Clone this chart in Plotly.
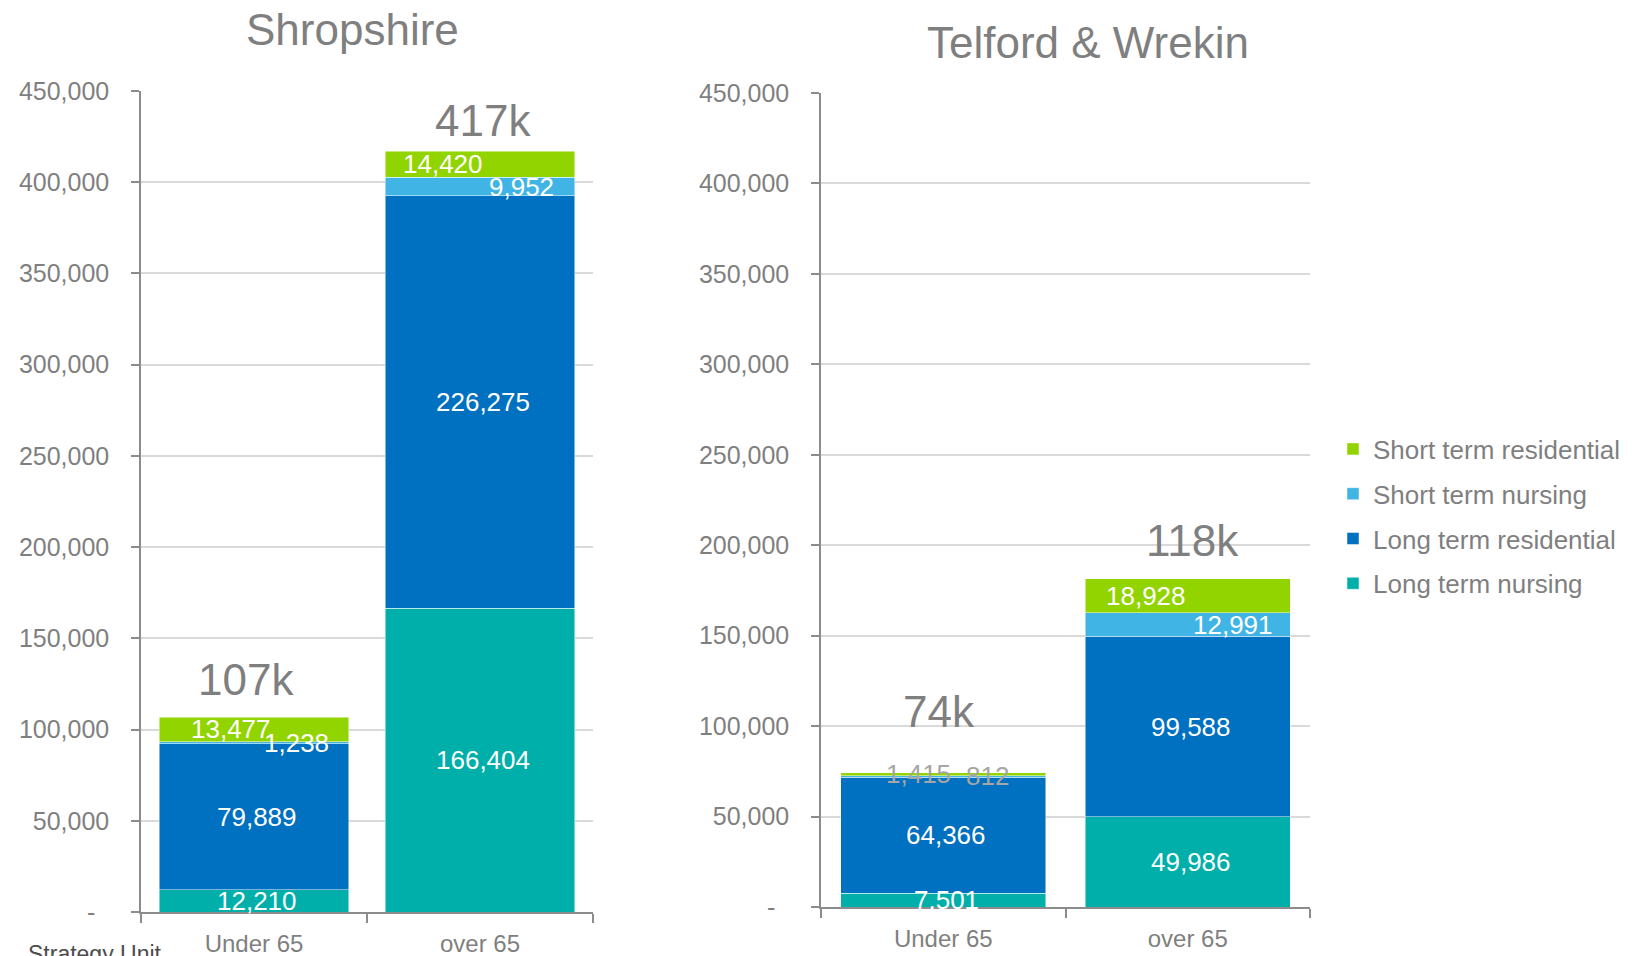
import plotly.graph_objects as go

# ---------------- data ----------------
categories = ["Under 65", "over 65"]
series_names = ["Long term nursing", "Long term residential", "Short term nursing", "Short term residential"]

shropshire_long_nursing = [12210, 166404]
shropshire_long_residential = [79889, 226275]
shropshire_short_nursing = [1238, 9952]
shropshire_short_residential = [13477, 14420]
shropshire_totals_text = ["107k", "417k"]

telford_long_nursing = [7501, 49986]
telford_long_residential = [64366, 99588]
telford_short_nursing = [812, 12991]
telford_short_residential = [1415, 18928]
telford_totals_text = ["74k", "118k"]

panel_titles = ["Shropshire", "Telford & Wrekin"]
y_tick_values = [0, 50000, 100000, 150000, 200000, 250000, 300000, 350000, 400000, 450000]

# ---------------- style ----------------
W, H = 1636, 956
colors = {
    "Long term nursing": "#00AFAA",
    "Long term residential": "#0070C0",
    "Short term nursing": "#41B4E6",
    "Short term residential": "#92D400",
}
legend_rank = {
    "Short term residential": 1,
    "Short term nursing": 2,
    "Long term residential": 3,
    "Long term nursing": 4,
}
grey = "#7F7F7F"
FONT = "Liberation Sans, Arial, sans-serif"

def px_x(p):
    return p / W

def px_y(p):
    return (H - p) / H

fig = go.Figure()

# label horizontal offsets (pixels) per panel, per series, per category
label_xshift = [
    {"Long term nursing": [3, 3], "Long term residential": [3, 3],
     "Short term nursing": [42, 41], "Short term residential": [-23, -37]},
    {"Long term nursing": [3, 3], "Long term residential": [3, 3],
     "Short term nursing": [44, 45], "Short term residential": [-25, -42]},
]

panels = [
    dict(name=panel_titles[0], xa="x", ya="y",
         vals=[shropshire_long_nursing, shropshire_long_residential, shropshire_short_nursing, shropshire_short_residential],
         totals=shropshire_totals_text, total_shift=[38, 31], total_xshift=[-8, 3], small_grey=False),
    dict(name=panel_titles[1], xa="x2", ya="y2",
         vals=[telford_long_nursing, telford_long_residential, telford_short_nursing, telford_short_residential],
         totals=telford_totals_text, total_shift=[61, 38], total_xshift=[-4, 5], small_grey=True),
]

annotations = []
for pi, p in enumerate(panels):
    cum = [0, 0]
    for si, sname in enumerate(series_names):
        vals = p["vals"][si]
        fig.add_trace(go.Bar(
            x=categories, y=vals, name=sname,
            xaxis=p["xa"], yaxis=p["ya"],
            marker=dict(color=colors[sname], line=dict(color="rgba(255,255,255,0.6)", width=0.8)),
            legendgroup=sname, legendrank=legend_rank[sname], showlegend=(pi == 0),
            hoverinfo="skip",
        ))
        for ci, cat in enumerate(categories):
            mid = cum[ci] + vals[ci] / 2
            txtcol = "white"
            if p["small_grey"] and ci == 0 and sname.startswith("Short"):
                txtcol = "#A6A6A6"
            annotations.append(dict(
                x=cat, y=mid, xref=p["xa"], yref=p["ya"],
                text=f"{vals[ci]:,}", showarrow=False,
                xanchor="center", yanchor="middle",
                xshift=label_xshift[pi][sname][ci],
                font=dict(size=26, color=txtcol, family=FONT),
            ))
        cum = [cum[i] + vals[i] for i in range(2)]
    for ci, cat in enumerate(categories):
        annotations.append(dict(
            x=cat, y=cum[ci], xref=p["xa"], yref=p["ya"],
            text=p["totals"][ci], showarrow=False, xanchor="center", yanchor="middle",
            yshift=p["total_shift"][ci], xshift=p["total_xshift"][ci],
            font=dict(size=44, color=grey, family=FONT),
        ))

# panel titles
annotations.append(dict(x=px_x(352), y=px_y(29), xref="paper", yref="paper", text=panel_titles[0],
                        xanchor="center", yanchor="middle",
                        showarrow=False, font=dict(size=44, color=grey, family=FONT)))
annotations.append(dict(x=px_x(1088), y=px_y(43), xref="paper", yref="paper", text=panel_titles[1],
                        xanchor="center", yanchor="middle",
                        showarrow=False, font=dict(size=44, color=grey, family=FONT)))
# footer text (cut at the bottom edge as in the source image)
annotations.append(dict(x=px_x(26), y=px_y(954), xref="paper", yref="paper", text="Strategy Unit",
                        showarrow=False, xanchor="left", yanchor="middle",
                        font=dict(size=23, color="#4D4D4D", family=FONT)))

y_tick_text = ["-\u00a0\u00a0" if v == 0 else f"{v:,}" for v in y_tick_values]

xaxis_common = dict(
    showline=True, linecolor="#8C8C8C", linewidth=1.5,
    ticks="outside", tickson="boundaries", ticklen=9, tickcolor="#8C8C8C", tickwidth=1.5,
    ticklabelstandoff=9,
    tickfont=dict(size=24, color=grey, family=FONT),
    showgrid=False, zeroline=False, automargin=False,
)
yaxis_common = dict(
    range=[0, 450000], tickvals=y_tick_values, ticktext=y_tick_text,
    showline=True, linecolor="#8C8C8C", linewidth=1.5,
    ticks="outside", ticklen=8, tickcolor="#8C8C8C", tickwidth=1.5,
    ticklabelstandoff=17,
    tickfont=dict(size=25, color=grey, family=FONT),
    showgrid=True, gridcolor="#D9D9D9", gridwidth=1.5, zeroline=False, automargin=False,
)

fig.update_layout(
    width=W, height=H,
    margin=dict(l=0, r=0, t=0, b=0, pad=0, autoexpand=False),
    paper_bgcolor="white", plot_bgcolor="white",
    barmode="stack", bargap=0.16,
    xaxis=dict(domain=[px_x(141), px_x(593)], anchor="y", **xaxis_common),
    yaxis=dict(domain=[px_y(912), px_y(91)], anchor="x", **yaxis_common),
    xaxis2=dict(domain=[px_x(821), px_x(1310)], anchor="y2", **xaxis_common),
    yaxis2=dict(domain=[px_y(907), px_y(93)], anchor="x2", **yaxis_common),
    legend=dict(
        x=px_x(1333), y=px_y(425.5), xanchor="left", yanchor="top",
        traceorder="grouped", tracegroupgap=8,
        font=dict(size=26, color=grey, family=FONT),
        bgcolor="rgba(0,0,0,0)",
    ),
    annotations=annotations,
    showlegend=True,
)

fig.write_html("out.html", config={"displayModeBar": False},
               post_script="document.body.style.margin='0';document.body.style.overflow='hidden';")
